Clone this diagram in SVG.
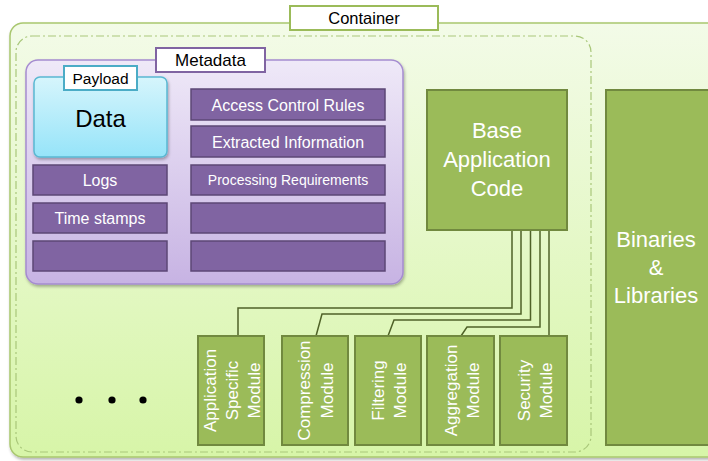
<svg xmlns="http://www.w3.org/2000/svg" width="708" height="461" viewBox="0 0 708 461">
  <defs>
    <linearGradient id="gContainer" x1="0" y1="0" x2="0" y2="1">
      <stop offset="0" stop-color="#f3fbe8"/>
      <stop offset="1" stop-color="#d7f5a8"/>
    </linearGradient>
    <linearGradient id="gMeta" x1="0" y1="0" x2="0" y2="1">
      <stop offset="0" stop-color="#efe9f8"/>
      <stop offset="1" stop-color="#c7b3e3"/>
    </linearGradient>
    <linearGradient id="gData" x1="0" y1="0" x2="0" y2="1">
      <stop offset="0" stop-color="#d6f5fc"/>
      <stop offset="1" stop-color="#96e4f9"/>
    </linearGradient>
    <filter id="shadow" x="-5%" y="-5%" width="110%" height="115%">
      <feDropShadow dx="1" dy="2" stdDeviation="1.5" flood-color="#000" flood-opacity="0.3"/>
    </filter>
  </defs>
  <style>
    text { font-family: "Liberation Sans", Arial, sans-serif; text-anchor: middle; }
    .label { fill: #fff; stroke-width: 2; }
    .lt { fill: #000; }
    .bar { fill: #8064a2; stroke: #5c4776; stroke-width: 1.5; }
    .bt { fill: #fff; font-size: 16px; }
    .bt.small { font-size: 14px; }
    .green { fill: #9bbb59; stroke: #71893f; stroke-width: 2; }
    .gt { fill: #fff; font-size: 22px; }
    .mt { fill: #fff; font-size: 17px; }
    .wire { fill: none; stroke: #4f6228; stroke-width: 1.5; }
  </style>

  <rect width="708" height="461" fill="#fff"/>

  <!-- container -->
  <g id="container">
    <rect x="10" y="23" width="720" height="434" rx="13" fill="url(#gContainer)" stroke="#a9c76f" stroke-width="1.5" filter="url(#shadow)"/>
    <rect x="16" y="36" width="575" height="416" rx="16" fill="none" stroke="#a9c77a" stroke-width="1.2" stroke-dasharray="8 3 2 3"/>
    <rect class="label" x="290" y="6" width="148" height="24" stroke="#9bbb59"/>
    <text class="lt" x="364" y="24" font-size="16.5">Container</text>
  </g>

  <!-- metadata -->
  <g id="metadata">
    <rect x="26" y="60" width="377" height="224" rx="12" fill="url(#gMeta)" stroke="#a58cd0" stroke-width="1.5" filter="url(#shadow)"/>
    <rect class="label" x="156" y="48" width="109" height="24" stroke="#8064a2"/>
    <text class="lt" x="210.5" y="66" font-size="17">Metadata</text>
  </g>

  <!-- payload -->
  <g id="payload">
    <rect x="34" y="77" width="133" height="80" rx="6" fill="url(#gData)" stroke="#5ab8d2" stroke-width="1.5" filter="url(#shadow)"/>
    <rect class="label" x="64" y="66" width="73" height="24" stroke="#4bacc6"/>
    <text class="lt" x="100.5" y="84" font-size="15.5">Payload</text>
    <text class="lt" x="100.5" y="127" font-size="24">Data</text>
  </g>

  <!-- metadata entries -->
  <g id="logs">
    <rect class="bar" x="33" y="165" width="134" height="30"/>
    <text class="bt" x="100" y="186">Logs</text>
  </g>
  <g id="timestamps">
    <rect class="bar" x="33" y="203" width="134" height="30"/>
    <text class="bt" x="100" y="224">Time stamps</text>
  </g>
  <g id="left-empty">
    <rect class="bar" x="33" y="241" width="134" height="30"/>
  </g>
  <g id="access-control">
    <rect class="bar" x="191" y="89" width="194" height="31"/>
    <text class="bt" x="288" y="110.5">Access Control Rules</text>
  </g>
  <g id="extracted">
    <rect class="bar" x="191" y="126" width="194" height="31"/>
    <text class="bt" x="288" y="147.5">Extracted Information</text>
  </g>
  <g id="processing">
    <rect class="bar" x="191" y="165" width="194" height="30"/>
    <text class="bt small" x="288" y="185">Processing Requirements</text>
  </g>
  <g id="right-empty-1">
    <rect class="bar" x="191" y="203" width="194" height="30"/>
  </g>
  <g id="right-empty-2">
    <rect class="bar" x="191" y="241" width="194" height="30"/>
  </g>

  <!-- connectors -->
  <g id="connectors">
    <polyline class="wire" points="512,230 512,308 238,308 238,336"/>
    <polyline class="wire" points="521,230 521,314 322,314 316,336"/>
    <polyline class="wire" points="530.5,230 530.5,320 394,320 388,336"/>
    <polyline class="wire" points="540,230 540,327 467,327 461,336"/>
    <polyline class="wire" points="549,230 549,336"/>
  </g>

  <!-- base code -->
  <g id="base-code">
    <rect class="green" x="427" y="90" width="140" height="140"/>
    <text class="gt" x="497" y="138">Base</text>
    <text class="gt" x="497" y="167">Application</text>
    <text class="gt" x="497" y="196">Code</text>
  </g>

  <!-- binaries -->
  <g id="binaries">
    <rect class="green" x="606" y="90" width="110" height="355"/>
    <text class="gt" x="656" y="247">Binaries</text>
    <text class="gt" x="656" y="275">&amp;</text>
    <text class="gt" x="656" y="303">Libraries</text>
  </g>

  <!-- modules -->
  <g id="mod-app">
    <rect class="green" x="198" y="336" width="66" height="109"/>
    <text class="mt" transform="translate(231 390.5) rotate(-90)"><tspan x="0" y="-15">Application</tspan><tspan x="0" y="7">Specific</tspan><tspan x="0" y="29">Module</tspan></text>
  </g>
  <g id="mod-compression">
    <rect class="green" x="282" y="336" width="66" height="109"/>
    <text class="mt" transform="translate(315 390.5) rotate(-90)"><tspan x="0" y="-5">Compression</tspan><tspan x="0" y="18">Module</tspan></text>
  </g>
  <g id="mod-filtering">
    <rect class="green" x="355" y="336" width="66" height="109"/>
    <text class="mt" transform="translate(388 390.5) rotate(-90)"><tspan x="0" y="-4">Filtering</tspan><tspan x="0" y="18">Module</tspan></text>
  </g>
  <g id="mod-aggregation">
    <rect class="green" x="427" y="336" width="67" height="109"/>
    <text class="mt" transform="translate(460.5 390.5) rotate(-90)"><tspan x="0" y="-4">Aggregation</tspan><tspan x="0" y="18">Module</tspan></text>
  </g>
  <g id="mod-security">
    <rect class="green" x="500" y="336" width="67" height="109"/>
    <text class="mt" transform="translate(533.5 390.5) rotate(-90)"><tspan x="0" y="-4">Security</tspan><tspan x="0" y="18">Module</tspan></text>
  </g>

  <!-- ellipsis -->
  <g id="ellipsis" fill="#000">
    <circle cx="79" cy="400" r="3.6"/>
    <circle cx="112" cy="400" r="3.6"/>
    <circle cx="143" cy="400" r="3.6"/>
  </g>
</svg>
